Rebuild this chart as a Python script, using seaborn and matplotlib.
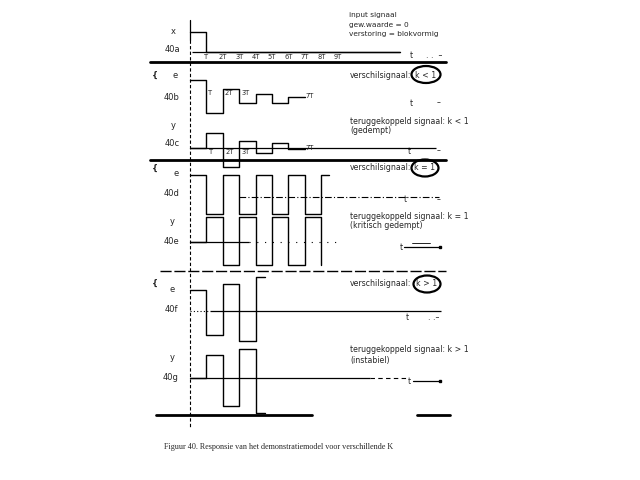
import matplotlib
matplotlib.use("Agg")
import matplotlib.pyplot as plt
import seaborn as sns
from matplotlib.patches import Ellipse

# -----------------------------
# Signal data (time in units of T, amplitude in signal units)
# -----------------------------
x_a_t = [0, 1, 12.8]
x_a = [1.0, 0.0, 0.0]

e_b_t = [0, 1, 2, 3, 4, 5, 6, 7]
e_b = [1.0, -0.64, 0.55, -0.17, 0.3, -0.17, 0.17, 0.17]
y_b_t = [0, 1, 2, 3, 4, 5, 6, 7]
y_b = [0.0, 0.77, -0.97, 0.35, -0.27, 0.23, -0.07, -0.07]

e_c_t = [0, 1, 2, 3, 4, 5, 6, 7, 8, 8.5]
e_c = [1.1, -0.87, 1.1, -0.87, 1.1, -0.87, 1.1, -0.87, 1.1, 1.1]
y_c_t = [0, 1, 2, 3, 4, 5, 6, 7, 8]
y_c = [0.0, 1.25, -1.17, 1.25, -1.17, 1.25, -1.17, 1.25, -1.17]

e_d_t = [0, 1, 2, 3, 4, 4.55]
e_d = [1.05, -1.2, 1.35, -1.5, 1.7, 1.7]
y_d_t = [0, 1, 2, 3, 4, 4.55]
y_d = [0.0, 1.17, -1.37, 1.45, -1.75, -1.75]

tick_labels = ["T", "2T", "3T", "4T", "5T", "6T", "7T", "8T", "9T"]

# -----------------------------
# Layout helpers (pixels on a 640x480 page)
# -----------------------------
T0 = 190.0     # pixel x of t = 0
T_PX = 16.4    # pixels per T
UNIT = 20.0    # pixels per signal unit

sns.set_theme(style="white")
plt.rcParams["font.family"] = ["DejaVu Sans"]

fig = plt.figure(figsize=(6.4, 4.8), dpi=100)
bg = fig.add_axes([0, 0, 1, 1])
bg.set_xlim(0, 640)
bg.set_ylim(480, 0)
bg.axis("off")


def trace_ax(base):
    ax = fig.add_axes([150 / 640, 1 - (base + 60) / 480, 300 / 640, 120 / 480])
    ax.set_xlim((150 - T0) / T_PX, (450 - T0) / T_PX)
    ax.set_ylim(-60 / UNIT, 60 / UNIT)
    ax.axis("off")
    return ax


def draw(ax, t, v, lw=1.0):
    sns.lineplot(x=t, y=v, ax=ax, color="black", lw=lw, estimator=None,
                 sort=False, drawstyle="steps-post")


fs = 5.6

# -----------------------------
# Frame: separators, time axis
# -----------------------------
bg.plot([190, 190], [20, 40], color="black", lw=0.9)
bg.plot([190, 190], [40, 428], color="black", lw=0.8, ls=(0, (3, 2)))
bg.plot([150, 446], [62, 62], color="black", lw=2.0)
bg.plot([150, 446], [160, 160], color="black", lw=2.0)
bg.plot([160, 446], [271, 271], color="black", lw=1.0, ls=(0, (8, 2)))
bg.plot([156, 312], [415, 415], color="black", lw=2.0)
bg.plot([417, 450], [415, 415], color="black", lw=2.0)

for y in [75, 168, 283]:
    bg.text(155, y, "{", fontsize=6, fontweight="bold", ha="center", va="center")

# -----------------------------
# 40a: input signal
# -----------------------------
ax = trace_ax(51.5)
ax.hlines(0, 0.15, 12.8, color="black", lw=0.9)
draw(ax, x_a_t, x_a)
for i, lab in enumerate(tick_labels):
    ax.text(i + 1, -0.27, lab, fontsize=4.8, ha="center", va="center")
bg.text(173, 31, "x", fontsize=6, ha="center", va="center")
bg.text(172, 50, "40a", fontsize=6, ha="center", va="center")
bg.text(349, 15, "input signaal", fontsize=5.3, va="center")
bg.text(349, 24.5, "gew.waarde = 0", fontsize=5.3, va="center")
bg.text(349, 34, "verstoring = blokvormig", fontsize=5.3, va="center")
bg.text(410, 56, "t", fontsize=fs, va="center")
bg.text(426, 56, ". .  \u2013", fontsize=fs, va="center")

# -----------------------------
# 40b / 40c: k < 1
# -----------------------------
ax = trace_ax(100)
draw(ax, e_b_t, e_b)
for t, lab in zip([1, 2, 3], ["T", "2T", "3T"]):
    ax.text(t + 0.12, 0.35, lab, fontsize=4.8, va="center")
ax.text(7.05, 0.2, "7T", fontsize=4.8, va="center")
bg.text(175, 76, "e", fontsize=6, ha="center", va="center")
bg.text(172, 97, "40b", fontsize=6, ha="center", va="center")
bg.text(350, 75, "verschilsignaal:", fontsize=fs, va="center")
bg.text(426, 75, "k < 1", fontsize=fs, ha="center", va="center")
bg.add_patch(Ellipse((426, 74.5), 29, 17, fill=False, lw=1.6, color="black"))
bg.text(410, 103, "t", fontsize=fs, va="center")
bg.text(437, 103, "\u2013", fontsize=fs, va="center")

ax = trace_ax(148)
ax.hlines(0, 0, 15.0, color="black", lw=0.9)
draw(ax, y_b_t, y_b)
for t, lab in zip([1, 2, 3], ["T", "2T", "3T"]):
    ax.text(t + 0.15, -0.22, lab, fontsize=4.8, va="center")
ax.text(7.05, 0.0, "7T", fontsize=4.8, va="center")
bg.text(173, 125, "y", fontsize=6, ha="center", va="center")
bg.text(172, 143, "40c", fontsize=6, ha="center", va="center")
bg.text(350, 121, "teruggekoppeld signaal: k < 1", fontsize=fs, va="center")
bg.text(350, 130.5, "(gedempt)", fontsize=fs, va="center")
bg.text(408, 151, "t", fontsize=fs, va="center")
bg.text(437, 151, "\u2013", fontsize=fs, va="center")

# -----------------------------
# 40d / 40e: k = 1
# -----------------------------
ax = trace_ax(196.7)
ax.hlines(0, 3.0, 15.2, color="black", lw=0.8, ls=(0, (6, 2, 1, 2)))
draw(ax, e_c_t, e_c)
bg.text(176, 173, "e", fontsize=6, ha="center", va="center")
bg.text(172, 193, "40d", fontsize=6, ha="center", va="center")
bg.text(350, 168, "verschilsignaal:", fontsize=fs, va="center")
bg.text(425, 168, "k = 1", fontsize=fs, ha="center", va="center")
bg.add_patch(Ellipse((425, 168), 27, 17, fill=False, lw=1.6, color="black"))
bg.text(404, 200, "t", fontsize=fs, va="center")
bg.text(437, 200, "\u2013", fontsize=fs, va="center")

ax = trace_ax(241.7)
ax.hlines(0, 0, 3.6, color="black", lw=0.9)
ax.hlines(0, 3.6, 9.0, color="black", lw=0.8, ls=(0, (1, 6)))
draw(ax, y_c_t, y_c)
bg.text(172, 222, "y", fontsize=6, ha="center", va="center")
bg.text(172, 241, "40e", fontsize=6, ha="center", va="center")
bg.text(350, 216.5, "teruggekoppeld signaal: k = 1", fontsize=fs, va="center")
bg.text(350, 226, "(kritisch gedempt)", fontsize=fs, va="center")
bg.text(400, 247, "t", fontsize=fs, va="center")
bg.plot([404, 440], [246.5, 246.5], color="black", lw=0.9)
bg.plot([412, 430], [243, 243], color="black", lw=0.6)
bg.plot([440], [246.5], marker="s", ms=1.5, color="black")

# -----------------------------
# 40f / 40g: k > 1
# -----------------------------
ax = trace_ax(311)
ax.hlines(0, 0, 1.2, color="black", lw=0.8, ls=(0, (1, 2)))
ax.hlines(0, 1.2, 15.3, color="black", lw=0.9)
draw(ax, e_d_t, e_d)
bg.text(172, 289, "e", fontsize=6, ha="center", va="center")
bg.text(171, 309, "40f", fontsize=6, ha="center", va="center")
bg.text(350, 284, "verschilsignaal:", fontsize=fs, va="center")
bg.text(427, 284, "k > 1", fontsize=fs, ha="center", va="center")
bg.add_patch(Ellipse((427, 284), 27, 17, fill=False, lw=1.6, color="black"))
bg.text(406, 318, "t", fontsize=fs, va="center")
bg.text(428, 318, ". .\u2013", fontsize=fs, va="center")

ax = trace_ax(378.3)
ax.hlines(0, 0, 11.0, color="black", lw=0.9)
ax.hlines(0, 11.0, 13.2, color="black", lw=0.8, ls=(0, (4, 3)))
draw(ax, y_d_t, y_d)
bg.text(172, 358, "y", fontsize=6, ha="center", va="center")
bg.text(171, 378, "40g", fontsize=6, ha="center", va="center")
bg.text(350, 350, "teruggekoppeld signaal: k > 1", fontsize=fs, va="center")
bg.text(350, 360, "(instabiel)", fontsize=fs, va="center")
bg.text(408, 381, "t", fontsize=fs, va="center")
bg.plot([413, 440], [381, 381], color="black", lw=0.9)
bg.plot([440], [381], marker="s", ms=1.5, color="black")

# -----------------------------
# Caption
# -----------------------------
bg.text(164, 447, "Figuur 40. Responsie van het demonstratiemodel voor verschillende K",
        fontsize=5.9, family=["Liberation Serif", "DejaVu Serif"], va="center")

fig.savefig("out.png", dpi=100)
